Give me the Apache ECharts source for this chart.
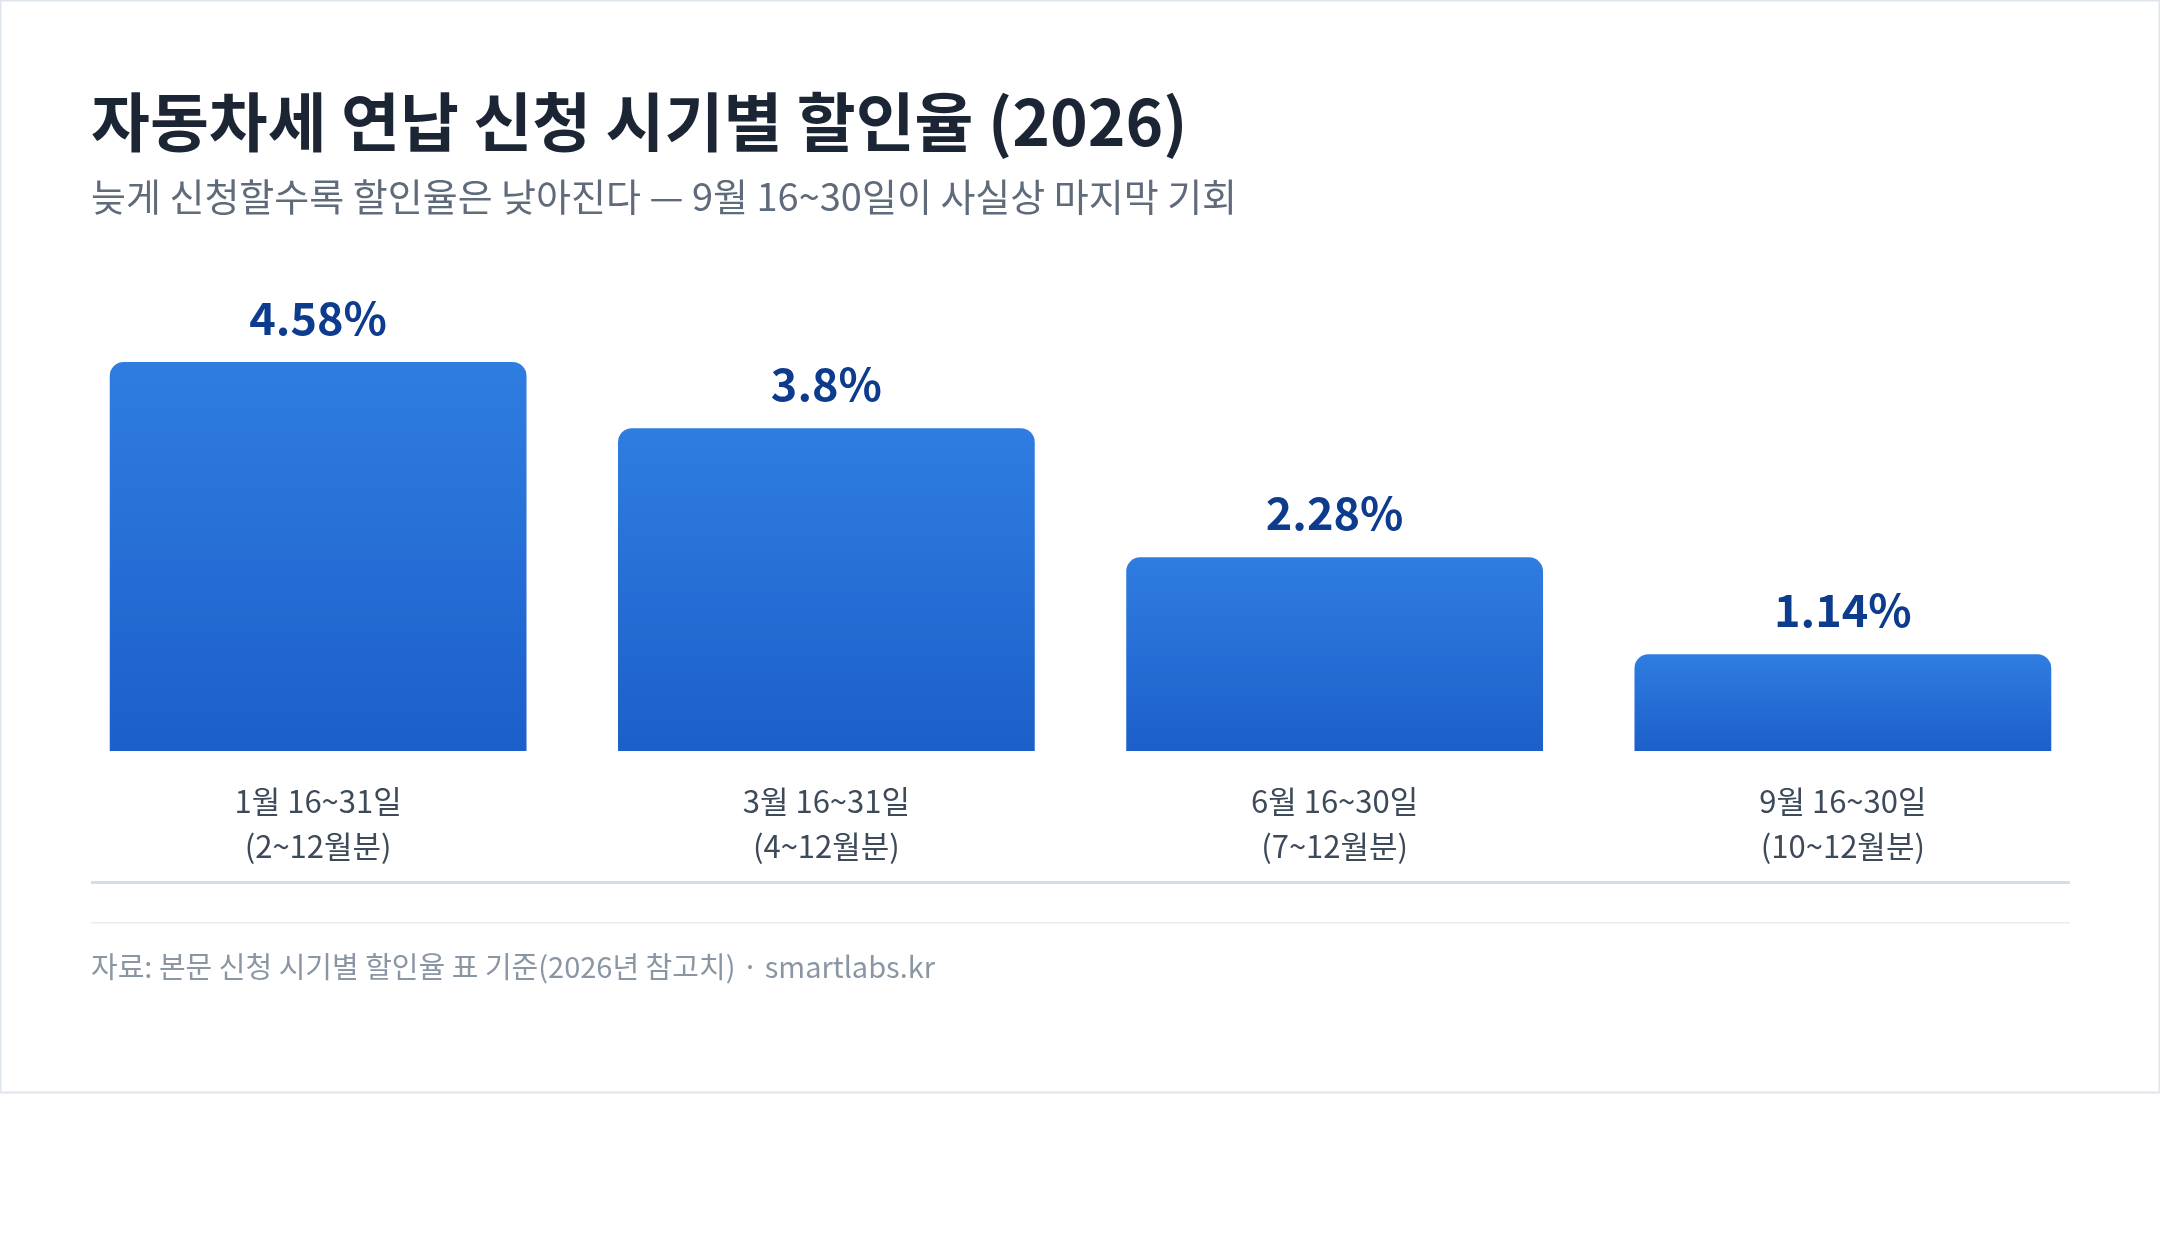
<!DOCTYPE html>
<html><head><meta charset="utf-8">
<script src="https://cdn.jsdelivr.net/npm/echarts@6/dist/echarts.min.js"></script>
<style>html,body{margin:0;padding:0;background:#fff}#c{width:2160px;height:1240px}</style>
</head><body><div id="c"></div>
<script>
const categories = ['1월 16~31일\n(2~12월분)', '3월 16~31일\n(4~12월분)', '6월 16~30일\n(7~12월분)', '9월 16~30일\n(10~12월분)'];
const rates = [4.58, 3.8, 2.28, 1.14];
const labels = ['4.58%', '3.8%', '2.28%', '1.14%'];
const F = '"Noto Sans CJK KR","Noto Sans",sans-serif';
const chart = echarts.init(document.getElementById('c'));
chart.setOption({
  backgroundColor: '#fff',
  animation: false,
  grid: { left: 64, right: 63, top: 362, bottom: 489 },
  xAxis: { type: 'category', data: categories, axisLine: { show: false }, axisTick: { show: false },
    axisLabel: { margin: 28, color: '#3d4a5a', fontSize: 31, lineHeight: 45, fontFamily: F } },
  yAxis: { type: 'value', min: 0, max: 4.58, show: false, splitLine: { show: false } },
  series: [{
    type: 'bar', data: rates, barCategoryGap: '18%',
    itemStyle: { borderRadius: [14, 14, 0, 0],
      color: new echarts.graphic.LinearGradient(0, 0, 0, 1, [{ offset: 0, color: '#2f7de1' }, { offset: 1, color: '#1c5fc9' }]) },
    label: { show: true, position: 'top', distance: 22, fontFamily: F, fontSize: 45, fontWeight: 'bold', color: '#0d3b8e',
      formatter: p => labels[p.dataIndex] }
  }],
  graphic: [
    { type: 'rect', shape: { x: 0.5, y: 0.5, width: 2159, height: 1092 }, style: { fill: 'none', stroke: '#dfe5ec', lineWidth: 2 }, z: -1 },
    { type: 'text', left: 91, top: 90, style: { text: '자동차세 연납 신청 시기별 할인율 (2026)', font: 'bold 64px ' + F, fill: '#1b2533' } },
    { type: 'text', left: 91, top: 178, style: { text: '늦게 신청할수록 할인율은 낮아진다 — 9월 16~30일이 사실상 마지막 기회', font: '38px ' + F, fill: '#5f6b7a' } },
    { type: 'rect', shape: { x: 91, y: 881, width: 1979, height: 3 }, style: { fill: '#d5dde8' } },
    { type: 'rect', shape: { x: 91, y: 922, width: 1979, height: 1.5 }, style: { fill: '#e8edf2' } },
    { type: 'text', left: 91, top: 952, style: { text: '자료: 본문 신청 시기별 할인율 표 기준(2026년 참고치) · smartlabs.kr', font: '29px ' + F, fill: '#8a96a3' } }
  ]
});
</script></body></html>
